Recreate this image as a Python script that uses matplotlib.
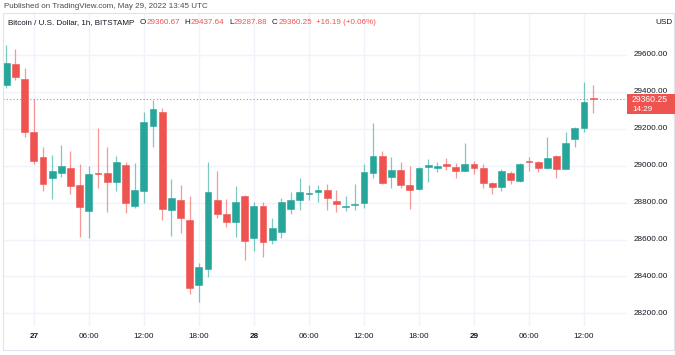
import matplotlib
matplotlib.use("Agg")
import matplotlib.pyplot as plt
from matplotlib.patches import Rectangle
import numpy as np

W, H = 675, 355
DPI = 100

# ---------------- data ----------------
opens = [29439, 29551, 29470, 29183, 29046, 28935, 28962, 28989, 28894, 28756,
         28960, 28959, 28913, 29002, 28783, 28863, 29217, 29293, 28760, 28814,
         28706, 28353, 28440, 28816, 28737, 28693, 28834, 28610, 28783, 28599,
         28642, 28764, 28812, 28845, 28859, 28867, 28809, 28778, 28787, 28796,
         28959, 29051, 28940, 28977, 28895, 28874, 28995, 28989, 29009, 28991,
         28973, 29009, 28986, 28908, 28886, 28962, 28917, 29025, 29018, 28986,
         29053, 28982, 29143, 29203, 29360.67]
highs = [29654, 29633, 29528, 29360, 29100, 29058, 29111, 29081, 29011, 28998,
         29203, 29103, 29054, 29020, 29013, 29289, 29356, 29314, 28926, 28895,
         28836, 28471, 29018, 28971, 28818, 28892, 28840, 28802, 28805, 28718,
         28823, 28859, 28932, 28895, 28895, 28899, 28868, 28836, 28901, 29008,
         29231, 29081, 29046, 29022, 29000, 28995, 29036, 29022, 29040, 29013,
         29125, 29025, 29008, 28910, 28980, 28971, 29013, 29046, 29025, 29157,
         29058, 29184, 29211, 29452, 29437.64]
lows = [29423, 29464, 29157, 29009, 28865, 28818, 28939, 28847, 28615, 28608,
        28879, 28747, 28863, 28745, 28772, 28796, 29103, 28706, 28621, 28634,
        28305, 28260, 28398, 28718, 28666, 28615, 28489, 28538, 28507, 28574,
        28610, 28738, 28760, 28814, 28802, 28760, 28751, 28755, 28760, 28772,
        28932, 28901, 28881, 28881, 28764, 28868, 28913, 28967, 28977, 28935,
        28971, 28953, 28881, 28845, 28863, 28901, 28910, 28971, 28964, 28980,
        28935, 28982, 29103, 29181, 29287.88]
closes = [29555, 29482, 29183, 29024, 28901, 28971, 29000, 28892, 28778, 28955,
          28955, 28910, 29018, 28796, 28868, 29235, 29307, 28764, 28823, 28718,
          28339, 28449, 28856, 28737, 28696, 28805, 28592, 28783, 28586, 28661,
          28805, 28816, 28857, 28850, 28867, 28823, 28791, 28783, 28794, 28964,
          29051, 28908, 28977, 28895, 28868, 28989, 29004, 29000, 29000, 28973,
          29011, 28986, 28908, 28883, 28973, 28922, 29008, 29018, 28986, 29040,
          28980, 29125, 29203, 29344, 29360.25]
# candle colour direction (1 = up/green, 0 = down/red)
direction = [1, 0, 0, 0, 0, 1, 1, 0, 0, 1, 0, 0, 1, 0, 1, 1, 1, 0, 1, 0,
             0, 1, 1, 0, 0, 1, 0, 1, 0, 1, 1, 1, 1, 1, 1, 0, 0, 1, 1, 1,
             1, 0, 1, 0, 0, 1, 1, 1, 0, 0, 1, 0, 0, 0, 1, 0, 1, 0, 0, 1,
             0, 1, 1, 1, 0]
# candle i is hour (i - 3) relative to 27 May 00:00
tick_idx = [3, 9, 15, 21, 27, 33, 39, 45, 51, 57, 63]
tick_labels = ["27", "06:00", "12:00", "18:00", "28", "06:00", "12:00", "18:00",
               "29", "06:00", "12:00"]
tick_bold = [True, False, False, False, True, False, False, False, True, False, False]
price_ticks = [28200, 28400, 28600, 28800, 29000, 29200, 29400, 29600]
last_price = 29360.25
countdown = "14:29"
legend_parts = [("Bitcoin / U.S. Dollar, 1h, BITSTAMP", "k", 5),
                ("O", "k", 0), ("29360.67", "r", 4),
                ("H", "k", 0), ("29437.64", "r", 4),
                ("L", "k", 0), ("29287.88", "r", 4),
                ("C", "k", 0), ("29360.25", "r", 4),
                ("+16.19 (+0.06%)", "r", 0)]

GREEN = "#26a69a"
RED = "#ef5350"
GRID = "#f0f3fa"
TXT = "#131722"
FONT = "Liberation Sans"

fig = plt.figure(figsize=(W / DPI, H / DPI), dpi=DPI)
fig.patch.set_facecolor("white")
renderer = fig.canvas.get_renderer()

def fx(px):
    return px / W

def fy(py):
    return 1 - py / H

# plot area in pixels
L, R, T, B = 3, 627, 14, 326
ax = fig.add_axes([fx(L), fy(B), fx(R - L), (B - T) / H])
ax.set_facecolor("white")
for s in ax.spines.values():
    s.set_visible(False)

n = len(opens)
idx = np.arange(n)
o = np.array(opens, float)
h = np.array(highs, float)
l = np.array(lows, float)
c = np.array(closes, float)
cols = np.where(np.array(direction) == 1, GREEN, RED)

# gridlines
for t in tick_idx:
    ax.axvline(t, color=GRID, lw=1.0, zorder=0)
for p in price_ticks:
    ax.axhline(p, color=GRID, lw=1.0, zorder=0)

# wicks
ax.vlines(idx, l, h, colors=cols, lw=0.9, alpha=0.6, zorder=2)
# bodies
bottoms = np.minimum(o, c)
heights = np.maximum(np.abs(c - o), 5.0)
ax.bar(idx, heights, bottom=bottoms, width=0.74, color=cols, edgecolor=cols,
       linewidth=0.4, zorder=3)

ax.set_xlim((L - 6.3) / 9.17, (R - 6.3) / 9.17)
y0 = 29000 + (165.7 - B) * 5.42
y1 = 29000 + (165.7 - T) * 5.42
ax.set_ylim(y0, y1)
ax.set_xticks([])
ax.set_yticks([])

# last price dotted line
ax.axhline(last_price, color=RED, lw=0.8, ls=(0, (1, 2)), alpha=0.8, zorder=1)

def price_to_py(p):
    return T + (y1 - p) / (y1 - y0) * (B - T)

# price axis labels
for p in price_ticks:
    fig.text(fx(634), fy(price_to_py(p)), f"{p:.2f}", fontsize=5.9, family=FONT,
             color=TXT, ha="left", va="center")

# last price box
py = price_to_py(last_price)
fig.patches.append(Rectangle((fx(627), fy(py + 15)), fx(48), 20 / H,
                             transform=fig.transFigure, facecolor=RED,
                             edgecolor="none", zorder=5))
fig.text(fx(632), fy(py), f"{last_price:.2f}", fontsize=6.2, family=FONT,
         color="white", ha="left", va="center", zorder=6)
fig.text(fx(632), fy(py + 10), countdown, fontsize=5.9, family=FONT,
         color="white", ha="left", va="center", zorder=6)

# time axis labels
for t, lab, b in zip(tick_idx, tick_labels, tick_bold):
    px = 6.3 + 9.17 * t
    fig.text(fx(px), fy(336), lab, fontsize=5.9, family=FONT, color=TXT,
             ha="center", va="center", fontweight="bold" if b else "normal")

# frame
fig.patches.append(Rectangle((fx(3), fy(350)), fx(671), 337 / H,
                             transform=fig.transFigure, facecolor="none",
                             edgecolor="#e0e3eb", lw=0.8, zorder=4))

# header
fig.text(fx(4), fy(6), "Published on TradingView.com, May 29, 2022 13:45 UTC",
         fontsize=5.8, family=FONT, color="#4a4a4a", ha="left", va="center")
fig.text(fx(672), fy(22), "USD", fontsize=5.9, family=FONT, color=TXT,
         ha="right", va="center")

# legend line, chained
ly = fy(23)
xpos = 8.0
for s, col, gap in legend_parts:
    t = fig.text(fx(xpos), ly, s, fontsize=5.8, family=FONT,
                 color=TXT if col == "k" else RED, ha="left", va="center")
    bb = t.get_window_extent(renderer=renderer)
    xpos = bb.x1 + 0.5 + gap

fig.savefig("out.png", dpi=DPI)
